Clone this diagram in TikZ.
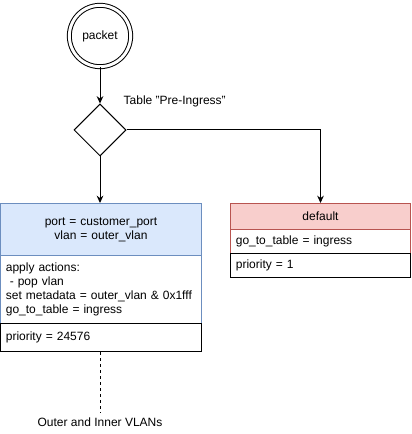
\documentclass[tikz,border=0pt]{standalone}
\usepackage{fontspec}
\setmainfont{Liberation Sans}
\usetikzlibrary{arrows.meta,positioning,shapes.geometric}
\definecolor{blue2}{HTML}{6C8EBF}
\definecolor{lightblue}{HTML}{DAE8FC}
\definecolor{red2}{HTML}{B85450}
\definecolor{lightred}{HTML}{F8CECC}
\tikzset{
  rowbox/.style={draw, line width=0.75pt, anchor=north west, inner xsep=4pt,
    inner ysep=0pt, align=left, text width=#1},
  flow/.style={-{Stealth[length=5.5pt, width=5pt]}, line width=0.75pt}
}
\begin{document}
\begin{tikzpicture}[x=0.75pt, y=-0.75pt, font=\fontsize{9}{10.5}\selectfont,
    start/.style={circle, draw, line width=0.75pt, double, double distance=2.2pt,
                  minimum size=46pt, inner sep=0pt},
    choicebox/.style={diamond, draw, line width=0.75pt, minimum size=39pt,
                  inner sep=0pt}
]
\useasboundingbox (0,0) rectangle (411,434);
\node[start] (pkt) at (100,36) {packet};
\node[choicebox] (choice) at (100,130) {};
\node[anchor=west] (tname) at (119,101) {Table "Pre-Ingress"};

% left table entry
\node[rowbox=142.75pt, draw=blue2, fill=lightblue, minimum height=39pt, align=center]
  (lhead) at (0,203) {port = customer\_port\\vlan = outer\_vlan};
\node[rowbox=142.75pt, draw=blue2, minimum height=51pt]
  (lbody) at (0,255) {apply actions:\\\ - pop vlan\\set metadata = outer\_vlan \& 0x1fff\\go\_to\_table = ingress};
\node[rowbox=142.75pt, minimum height=21pt]
  (lprio) at (0,323) {priority = 24576};

% right table entry
\node[rowbox=127pt, draw=red2, fill=lightred, minimum height=19.5pt, align=center]
  (rhead) at (230,203) {default};
\node[rowbox=127pt, draw=red2, minimum height=18pt]
  (rbody) at (230,229) {go\_to\_table = ingress};
\node[rowbox=127pt, minimum height=18pt]
  (rprio) at (230,253) {priority = 1};

\node (vlans) at (100,422) {Outer and Inner VLANs};

\draw[flow] (pkt) -- (choice);
\draw[flow] (choice.south) -- (choice.south |- lhead.north);
\draw[flow] (choice.east) -| (rhead.north);
\draw[line width=0.75pt, dash pattern=on 2.25pt off 2.25pt] (lprio.south -| vlans) -- (vlans.north);
\end{tikzpicture}
\end{document}
